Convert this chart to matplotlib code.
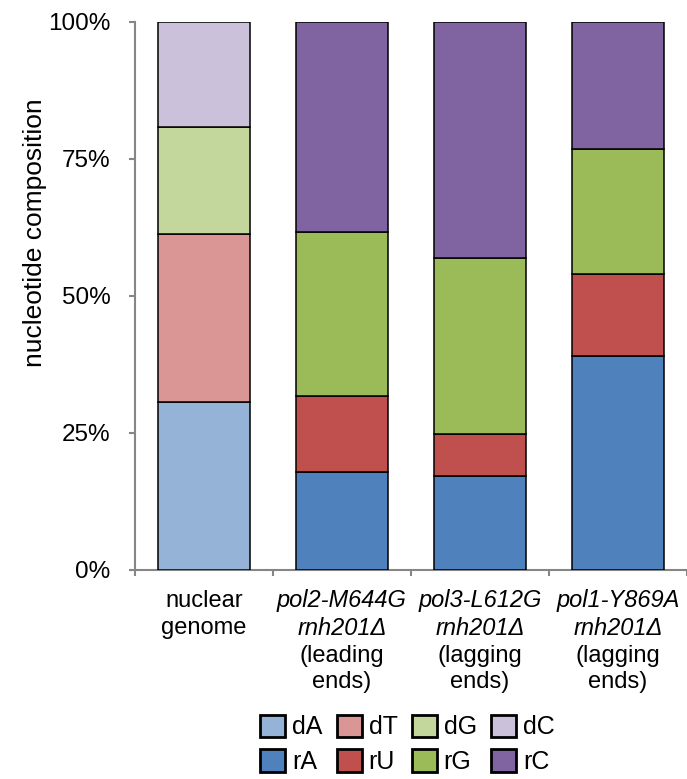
import numpy as np
import matplotlib.pyplot as plt
from matplotlib.patches import Patch

plt.rcParams['font.family'] = ['Liberation Sans', 'DejaVu Sans']

# stacked composition (%) per sample, bottom to top: A, T/U, G, C
samples = ['nuclear', 'pol2', 'pol3', 'pol1']
comp_A = [30.7, 17.9, 17.2, 39.1]
comp_TU = [30.6, 13.9, 7.6, 14.9]
comp_G = [19.5, 29.9, 32.1, 22.8]
comp_C = [19.2, 38.3, 43.1, 23.2]

deoxy_names = ['dA', 'dT', 'dG', 'dC']
ribo_names = ['rA', 'rU', 'rG', 'rC']
deoxy_colors = ['#95B3D7', '#D99694', '#C3D69B', '#CCC1DA']
ribo_colors = ['#4F81BD', '#C0504D', '#9BBB59', '#8064A2']

label_top = ['nuclear', 'pol2-M644G', 'pol3-L612G', 'pol1-Y869A']
label_2 = ['genome', 'rnh201\u0394', 'rnh201\u0394', 'rnh201\u0394']
label_3 = ['', '(leading', '(lagging', '(lagging']
label_4 = ['', 'ends)', 'ends)', 'ends)']

yticks = [0, 25, 50, 75, 100]

fig = plt.figure(figsize=(6.87, 7.79), dpi=100)
ax = fig.add_axes([0.1965, 0.2683, 0.8035, 0.7035])

x = np.arange(1, len(samples) + 1)
layers = [comp_A, comp_TU, comp_G, comp_C]
bottom = np.zeros(len(samples))
for k, vals in enumerate(layers):
    vals = np.array(vals)
    cols = [deoxy_colors[k]] + [ribo_colors[k]] * (len(samples) - 1)
    ax.bar(x, vals, 0.667, bottom=bottom, color=cols,
           edgecolor='black', linewidth=1.1, zorder=3)
    bottom += vals

ax.set_xlim(0.5, 4.5)
ax.set_ylim(0, 100)
ax.set_yticks(yticks)
ax.set_yticklabels(['%d%%' % t for t in yticks], fontsize=17.5)
ax.set_xticks(np.arange(0.5, 4.6, 1.0))
ax.set_xticklabels([])

grey = '#868686'
for s in ['top', 'right']:
    ax.spines[s].set_visible(False)
for s in ['left', 'bottom']:
    ax.spines[s].set_color(grey)
    ax.spines[s].set_linewidth(1.5)
ax.tick_params(axis='y', direction='out', length=4.5, width=1.5,
               color=grey, pad=13)
ax.tick_params(axis='x', direction='out', length=4.5, width=1.5, color=grey)

ax.set_ylabel('nucleotide composition', fontsize=19)
ax.yaxis.set_label_coords(-0.16, 0.615)

# category labels, first two lines italic for the mutants
offsets = [-22.3, -41.8, -61.9, -80.6]
for i, xi in enumerate(x):
    lines = [label_top[i], label_2[i], label_3[i], label_4[i]]
    for j, txt in enumerate(lines):
        if not txt:
            continue
        style = 'italic' if (i > 0 and j < 2) else 'normal'
        ax.annotate(txt, (xi, 0), xycoords=('data', 'axes fraction'),
                    xytext=(0, offsets[j]), textcoords='offset points',
                    ha='center', va='center', fontsize=17, style=style)

handles = []
for k in range(4):
    handles.append(Patch(facecolor=deoxy_colors[k], edgecolor='black',
                         linewidth=2, label=deoxy_names[k]))
    handles.append(Patch(facecolor=ribo_colors[k], edgecolor='black',
                         linewidth=2, label=ribo_names[k]))
fig.legend(handles=handles, loc='center', bbox_to_anchor=(0.593, 0.0443),
           ncol=4, frameon=False, fontsize=18, handlelength=1.0,
           handleheight=1.0, handletextpad=0.28, columnspacing=0.56,
           labelspacing=0.4, borderpad=0)

fig.savefig('out.png', dpi=100)
